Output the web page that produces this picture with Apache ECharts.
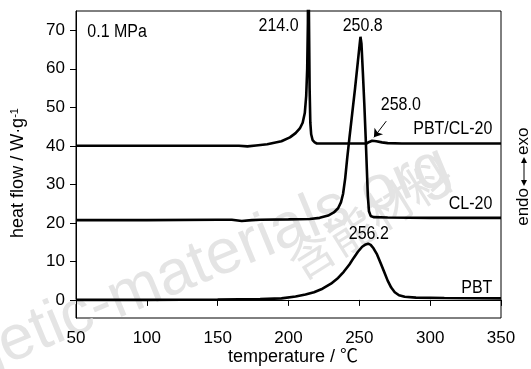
<!DOCTYPE html>
<html><head><meta charset="utf-8">
<script src="https://cdn.jsdelivr.net/npm/echarts@6/dist/echarts.min.js"></script>
<style>html,body{margin:0;padding:0;background:#fff}#c{width:531px;height:369px}</style>
</head><body><div id="c"></div>
<script>
// ---------- data ----------
const xTicks = [50, 100, 150, 200, 250, 300, 350];
const yTicks = [0, 10, 20, 30, 40, 50, 60, 70];

const pbtTemp = [50, 100, 150, 180, 195, 205, 212, 218, 224, 230, 235, 239, 243, 246, 249, 252, 254.5, 256.2, 258, 260, 262.5, 265, 267.5, 270, 272.5, 275, 278, 282, 290, 310, 350];
const pbtFlow = [0, 0, 0.1, 0.2, 0.4, 0.9, 1.4, 2.0, 2.9, 4.2, 5.7, 7.3, 9.2, 10.9, 12.5, 13.8, 14.4, 14.6, 14.3, 13.4, 11.8, 9.6, 7.3, 5.0, 3.2, 2.0, 1.2, 0.8, 0.6, 0.5, 0.4];

const cl20Temp = [50, 100, 150, 160, 167, 174, 180, 200, 215, 222, 228, 232, 235, 237, 238.5, 240, 241.5, 243, 245, 247, 249, 250.2, 250.8, 251.5, 252.5, 253.5, 254.5, 255.3, 256, 256.8, 258, 260, 270, 300, 350];
const cl20Flow = [20.7, 20.7, 20.8, 20.8, 20.5, 20.7, 20.8, 20.9, 21.0, 21.3, 21.9, 22.7, 23.8, 25.3, 27.5, 31.5, 37, 42, 48.5, 55, 62, 66.2, 68.3, 66.5, 59, 51, 42, 34, 27, 23, 21.8, 21.5, 21.4, 21.3, 21.3];

const mixTemp = [50, 100, 150, 165, 171, 177, 185, 195, 201, 205, 208, 210, 211.5, 212.5, 213.2, 213.7, 214.0, 214.4, 214.9, 215.4, 216, 217, 218.5, 220, 240, 255, 257, 259, 262, 266, 270, 280, 350];
const mixFlow = [40.0, 40.0, 40.0, 40.0, 39.85, 40.1, 40.4, 41.2, 42.2, 43.3, 44.5, 46.0, 48.5, 53, 60, 72, 110, 75, 55, 46, 43, 41.5, 40.9, 40.6, 40.6, 40.6, 41.0, 41.3, 41.2, 40.9, 40.7, 40.6, 40.6];

const peakLabels = ['214.0', '250.8', '258.0', '256.2'];
const curveNames = ['PBT/CL-20', 'CL-20', 'PBT'];

// ---------- fonts ----------
const LFONT = "'Liberation Sans', Arial, sans-serif";
const TFONT = "'Liberation Sans', Arial, sans-serif";

const pairs = (t, v) => t.map((x, i) => [x, v[i]]);
const lineStyle = { color: '#000', width: 2.6 };

const chart = echarts.init(document.getElementById('c'), null, { renderer: 'canvas' });
chart.setOption({
  animation: false,
  backgroundColor: '#fff',
  grid: { left: 76, right: 30, top: 11, bottom: 51, show: true, borderColor: '#000', borderWidth: 1, backgroundColor: 'transparent' },
  xAxis: {
    type: 'value', min: 50, max: 350, interval: 50,
    axisLine: { show: true, lineStyle: { color: '#000', width: 1 } },
    axisTick: { show: true, length: 6, lineStyle: { color: '#000', width: 1 } },
    axisLabel: { margin: 12, color: '#000', fontFamily: LFONT, fontSize: 17, customValues: xTicks },
    splitLine: { show: false }
  },
  yAxis: {
    type: 'value', min: -4.7, max: 75,
    axisLine: { show: true, lineStyle: { color: '#000', width: 1 } },
    axisTick: { show: true, length: 6, lineStyle: { color: '#000', width: 1 }, customValues: yTicks },
    axisLabel: { margin: 11, color: '#000', fontFamily: LFONT, fontSize: 17, customValues: yTicks },
    splitLine: { show: false }
  },
  series: [
    { type: 'line', data: pairs(pbtTemp, pbtFlow), showSymbol: false, lineStyle, clip: true, z: 3 },
    { type: 'line', data: pairs(cl20Temp, cl20Flow), showSymbol: false, lineStyle, clip: true, z: 3 },
    { type: 'line', data: pairs(mixTemp, mixFlow), showSymbol: false, lineStyle, clip: true, z: 3,
      markLine: {
        silent: true, symbol: ['none', 'arrow'], symbolSize: 8, animation: false,
        lineStyle: { color: '#000', width: 1, type: 'solid' },
        label: { show: false },
        data: [[{ coord: [269, 46.4] }, { coord: [260.3, 42.2] }]]
      }
    }
  ]
});

// ---------- annotations ----------
const px = (t, v) => chart.convertToPixel({ gridIndex: 0 }, [t, v]);
function lbl(text, t, v, align) {
  const p = px(t, v);
  return { type: 'text', x: p[0], y: p[1], scaleY: 1.15, z: 10, silent: true,
    style: { text, fill: '#000', font: '16px ' + LFONT, align: align, verticalAlign: 'middle' } };
}
const gfx = [
  // watermark (faint)
  { type: 'text', x: 447, y: 163, rotation: 22.5 * Math.PI / 180, z: 0, silent: true,
    style: { text: 'energetic-materials.org', fill: '#e4e4e4', font: '63px ' + TFONT, align: 'right', verticalAlign: 'middle' } },
  { type: 'text', x: 370, y: 218, rotation: 32 * Math.PI / 180, z: 0, silent: true,
    style: { text: '含能材料', fill: '#e4e4e4', font: "46px 'Noto Sans CJK SC', sans-serif", align: 'center', verticalAlign: 'middle' } },
  lbl('0.1 MPa', 58, 69.6, 'left'),
  lbl(peakLabels[0], 193, 71.1, 'center'),
  lbl(peakLabels[1], 252.4, 71.1, 'center'),
  lbl(peakLabels[2], 279.3, 50.6, 'center'),
  lbl(peakLabels[3], 256.7, 17.0, 'center'),
  lbl(curveNames[0], 343.9, 44.5, 'right'),
  lbl(curveNames[1], 343.9, 25.0, 'right'),
  lbl(curveNames[2], 343.9, 3.2, 'right'),
  // axis titles
  { type: 'text', x: 293, y: 357, z: 10, silent: true,
    style: { text: 'temperature / ℃', fill: '#000', font: "18px 'Liberation Sans', 'Noto Sans CJK SC', sans-serif", align: 'center', verticalAlign: 'middle' } },
  { type: 'text', x: 18, y: 173, rotation: Math.PI / 2, z: 10, silent: true,
    style: { text: 'heat flow / W·g{s|-1}', fill: '#000', font: '18px ' + TFONT, align: 'center', verticalAlign: 'middle',
      rich: { s: { fontSize: 11, fontFamily: TFONT, verticalAlign: 'top', lineHeight: 11 } } } },
  // endo <-> exo
  { type: 'group', x: 523, y: 181, rotation: Math.PI / 2, z: 10, silent: true, children: [
    { type: 'text', x: -7, y: 0, style: { text: 'endo', fill: '#000', font: '17px ' + TFONT, align: 'right', verticalAlign: 'middle' } },
    { type: 'text', x: 26, y: 0, style: { text: 'exo', fill: '#000', font: '17px ' + TFONT, align: 'left', verticalAlign: 'middle' } },
    { type: 'line', shape: { x1: -3, y1: 1, x2: 22, y2: 1 }, style: { stroke: '#000', lineWidth: 1 } },
    { type: 'polygon', shape: { points: [[24, 1], [18, -2], [18, 4]] }, style: { fill: '#000' } },
    { type: 'polygon', shape: { points: [[-5, 1], [1, -2], [1, 4]] }, style: { fill: '#000' } }
  ] }
];
chart.setOption({ graphic: gfx });
</script>
</body></html>
